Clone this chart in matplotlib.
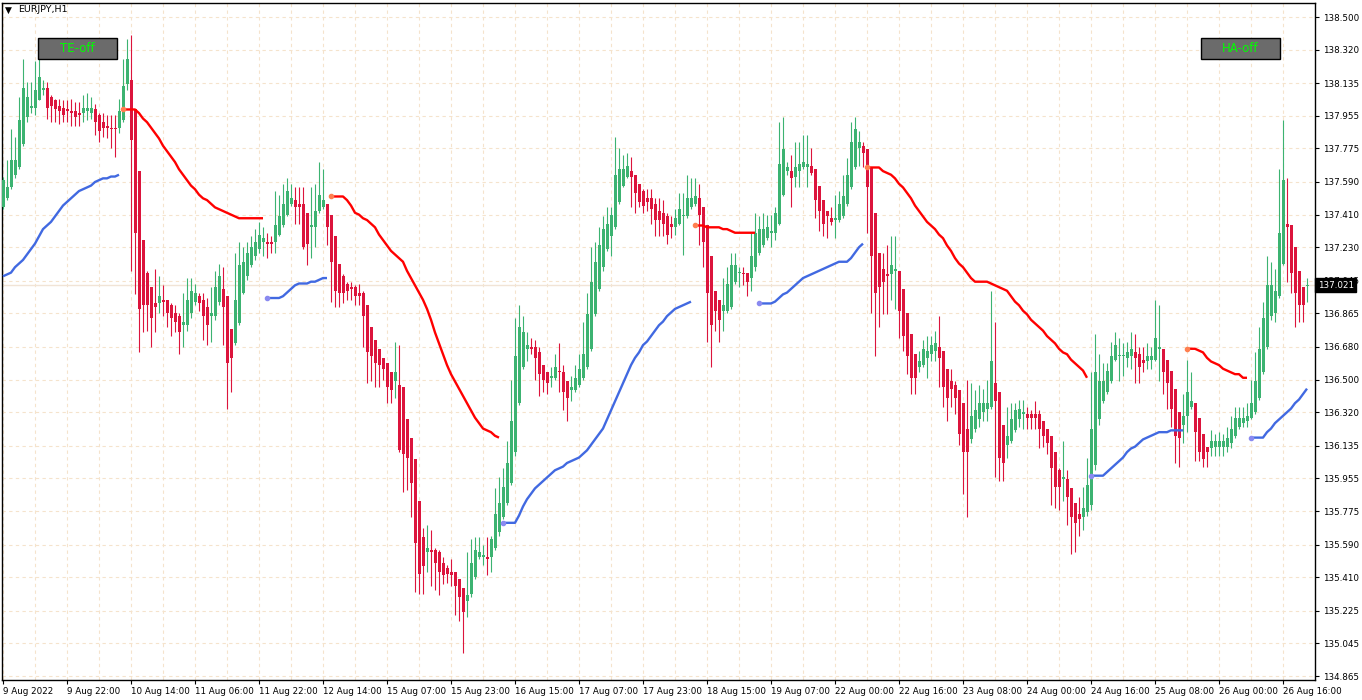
import numpy as np
import matplotlib
matplotlib.use("Agg")
import matplotlib.pyplot as plt
from matplotlib.patches import Rectangle
from matplotlib.transforms import blended_transform_factory

plt.rcParams['font.family'] = ['DejaVu Sans']

# EURJPY H1 candles, bar 0 = 9 Aug 2022 06:00
opens = [
    137.45, 137.50, 137.56, 137.63, 137.67, 137.80, 137.95, 138.00, 138.00, 138.04,
    138.10, 138.11, 138.06, 138.04, 138.01, 138.00, 137.99, 137.98, 137.98, 137.97,
    137.97, 137.98, 137.97, 137.99, 137.96, 137.92, 137.90, 137.89, 137.89, 137.89,
    137.93, 138.13, 138.15, 137.99, 137.65, 137.27, 137.09, 137.01, 136.92, 136.92,
    136.94, 136.94, 136.91, 136.87, 136.85, 136.80, 136.80, 136.87, 136.93, 136.96,
    136.94, 136.90, 136.85, 136.85, 136.93, 137.00, 136.96, 136.78, 136.70, 136.81,
    136.98, 137.07, 137.13, 137.18, 137.22, 137.26, 137.26, 137.26, 137.26, 137.30,
    137.35, 137.41, 137.47, 137.49, 137.47, 137.47, 137.42, 137.34, 137.34, 137.43,
    137.45, 137.47, 137.41, 137.29, 137.14, 137.07, 137.03, 137.01, 137.01, 136.98,
    136.98, 136.91, 136.79, 136.72, 136.67, 136.62, 136.59, 136.54, 136.49, 136.47,
    136.46, 136.28, 136.18, 136.06, 135.83, 135.63, 135.55, 135.56, 135.56, 135.55,
    135.49, 135.46, 135.44, 135.44, 135.40, 135.35, 135.28, 135.32, 135.41, 135.52,
    135.52, 135.52, 135.52, 135.57, 135.66, 135.74, 135.82, 135.93, 136.10, 136.37,
    136.57, 136.67, 136.68, 136.68, 136.65, 136.58, 136.54, 136.51, 136.51, 136.55,
    136.54, 136.49, 136.44, 136.44, 136.47, 136.51, 136.57, 136.67, 136.86, 137.00,
    137.12, 137.22, 137.29, 137.34, 137.48, 137.57, 137.62, 137.65, 137.63, 137.58,
    137.54, 137.50, 137.50, 137.47, 137.43, 137.42, 137.40, 137.36, 137.34, 137.36,
    137.40, 137.40, 137.45, 137.47, 137.50, 137.45, 137.35, 137.18, 136.99, 136.94,
    136.88, 136.88, 136.90, 137.04, 137.09, 137.09, 137.09, 137.06, 137.12, 137.20,
    137.24, 137.28, 137.31, 137.31, 137.36, 137.52, 137.65, 137.65, 137.62, 137.65,
    137.67, 137.67, 137.68, 137.66, 137.57, 137.49, 137.43, 137.39, 137.38, 137.38,
    137.40, 137.47, 137.56, 137.67, 137.78, 137.79, 137.77, 137.67, 137.42, 137.20,
    137.11, 137.08, 137.08, 137.10, 137.10, 137.00, 136.87, 136.75, 136.64, 136.57,
    136.58, 136.62, 136.64, 136.66, 136.68, 136.66, 136.56, 136.49, 136.47, 136.44,
    136.37, 136.23, 136.17, 136.23, 136.28, 136.32, 136.34, 136.35, 136.48, 136.43,
    136.25, 136.14, 136.16, 136.22, 136.28, 136.31, 136.31, 136.31, 136.31, 136.31,
    136.27, 136.23, 136.19, 136.10, 136.00, 135.95, 135.95, 135.90, 135.82, 135.76,
    135.74, 135.77, 135.81, 136.03, 136.28, 136.38, 136.43, 136.49, 136.61, 136.63,
    136.63, 136.62, 136.63, 136.65, 136.64, 136.61, 136.60, 136.61, 136.61, 136.67,
    136.67, 136.61, 136.55, 136.45, 136.32, 136.25, 136.30, 136.35, 136.37, 136.29,
    136.20, 136.13, 136.12, 136.13, 136.13, 136.13, 136.13, 136.15, 136.19, 136.24,
    136.26, 136.27, 136.29, 136.32, 136.40, 136.54, 136.68, 136.85, 136.87, 136.96,
    137.14, 137.36, 137.35, 137.23, 137.10, 137.01, 137.015,
]
highs = [
    137.62, 137.71, 137.88, 137.84, 138.06, 138.27, 138.14, 138.14, 138.26, 138.27,
    138.15, 138.14, 138.07, 138.05, 138.05, 138.04, 138.04, 138.05, 138.03, 138.03,
    138.07, 138.08, 138.06, 138.02, 137.97, 137.97, 137.96, 137.96, 137.96, 138.05,
    138.27, 138.38, 138.40, 137.99, 137.65, 137.27, 137.10, 137.01, 137.11, 137.07,
    137.02, 136.94, 136.92, 136.91, 136.87, 136.98, 137.06, 137.06, 137.03, 136.98,
    136.98, 136.95, 137.01, 137.10, 137.14, 137.12, 136.96, 136.78, 137.20, 137.26,
    137.23, 137.26, 137.29, 137.33, 137.37, 137.34, 137.31, 137.29, 137.54, 137.52,
    137.58, 137.61, 137.58, 137.56, 137.56, 137.56, 137.42, 137.56, 137.58, 137.70,
    137.66, 137.47, 137.41, 137.29, 137.14, 137.08, 137.04, 137.04, 137.02, 137.03,
    136.99, 136.91, 136.79, 136.72, 136.67, 136.62, 136.59, 136.54, 136.71, 136.69,
    136.46, 136.28, 136.18, 136.06, 135.83, 135.68, 135.70, 135.67, 135.57, 135.56,
    135.52, 135.48, 135.51, 135.44, 135.40, 135.35, 135.55, 135.62, 135.63, 135.63,
    135.59, 135.63, 135.64, 135.90, 135.96, 136.01, 136.16, 136.50, 136.84, 136.91,
    136.85, 136.76, 136.73, 136.72, 136.68, 136.58, 136.54, 136.57, 136.64, 136.70,
    136.58, 136.49, 136.52, 136.58, 136.64, 136.82, 136.98, 137.23, 137.26, 137.34,
    137.40, 137.45, 137.45, 137.84, 137.78, 137.74, 137.75, 137.73, 137.63, 137.58,
    137.55, 137.55, 137.55, 137.50, 137.50, 137.49, 137.42, 137.40, 137.44, 137.53,
    137.53, 137.63, 137.61, 137.61, 137.58, 137.45, 137.35, 137.18, 136.99, 136.94,
    137.06, 137.12, 137.20, 137.20, 137.12, 137.12, 137.09, 137.31, 137.42, 137.40,
    137.42, 137.41, 137.41, 137.45, 137.92, 137.95, 137.70, 137.74, 137.81, 137.81,
    137.85, 137.85, 137.78, 137.66, 137.57, 137.49, 137.43, 137.45, 137.52, 137.54,
    137.63, 137.72, 137.92, 137.95, 137.87, 137.81, 137.77, 137.67, 137.42, 137.20,
    137.20, 137.24, 137.29, 137.29, 137.10, 137.00, 136.87, 136.75, 136.64, 136.66,
    136.72, 136.74, 136.74, 136.77, 136.85, 136.66, 136.56, 136.56, 136.49, 136.44,
    136.37, 136.50, 136.48, 136.44, 136.47, 136.45, 136.50, 136.99, 136.82, 136.43,
    136.25, 136.35, 136.37, 136.37, 136.39, 136.39, 136.35, 136.33, 136.38, 136.33,
    136.27, 136.23, 136.19, 136.10, 136.01, 136.16, 136.00, 135.90, 135.82, 135.85,
    135.91, 136.07, 136.54, 136.75, 136.64, 136.59, 136.59, 136.71, 136.76, 136.73,
    136.70, 136.71, 136.76, 136.75, 136.68, 136.68, 136.70, 136.68, 136.94, 136.91,
    136.67, 136.61, 136.55, 136.45, 136.32, 136.42, 136.61, 136.54, 136.37, 136.29,
    136.20, 136.13, 136.22, 136.20, 136.21, 136.20, 136.24, 136.30, 136.35, 136.35,
    136.35, 136.37, 136.50, 136.65, 136.79, 136.93, 137.18, 137.15, 137.11, 137.66,
    137.93, 137.61, 137.35, 137.23, 137.10, 137.01, 137.06,
]
lows = [
    137.44, 137.49, 137.55, 137.61, 137.66, 137.79, 137.92, 137.97, 137.96, 138.04,
    138.07, 137.94, 137.92, 137.92, 137.91, 137.92, 137.92, 137.90, 137.90, 137.90,
    137.92, 137.93, 137.94, 137.85, 137.81, 137.84, 137.83, 137.78, 137.73, 137.86,
    137.92, 138.10, 137.10, 136.97, 136.65, 136.76, 136.77, 136.68, 136.76, 136.87,
    136.85, 136.79, 136.74, 136.76, 136.64, 136.68, 136.77, 136.84, 136.91, 136.88,
    136.72, 136.69, 136.71, 136.83, 136.91, 136.69, 136.34, 136.43, 136.69, 136.80,
    136.97, 137.05, 137.12, 137.16, 137.20, 137.18, 137.17, 137.20, 137.20, 137.29,
    137.34, 137.40, 137.46, 137.36, 137.36, 137.22, 137.13, 137.17, 137.23, 137.42,
    137.44, 137.24, 136.93, 136.90, 136.90, 136.92, 136.94, 136.94, 136.91, 136.91,
    136.68, 136.48, 136.49, 136.46, 136.46, 136.50, 136.37, 136.37, 136.40, 136.10,
    135.88, 135.89, 135.74, 135.33, 135.32, 135.32, 135.44, 135.36, 135.34, 135.31,
    135.37, 135.38, 135.36, 135.20, 135.17, 134.99, 135.19, 135.30, 135.40, 135.51,
    135.48, 135.42, 135.44, 135.56, 135.64, 135.73, 135.81, 135.92, 136.08, 136.36,
    136.56, 136.60, 136.64, 136.50, 136.41, 136.43, 136.42, 136.46, 136.50, 136.43,
    136.33, 136.27, 136.38, 136.43, 136.46, 136.50, 136.56, 136.66, 136.85, 136.99,
    137.10, 137.21, 137.18, 137.33, 137.47, 137.56, 137.61, 137.45, 137.42, 137.45,
    137.42, 137.43, 137.36, 137.29, 137.29, 137.29, 137.25, 137.28, 137.30, 137.35,
    137.19, 137.39, 137.44, 137.46, 137.24, 137.12, 136.71, 136.57, 136.77, 136.71,
    136.77, 136.87, 136.89, 137.03, 137.01, 137.02, 136.96, 136.99, 137.10, 137.19,
    137.23, 137.27, 137.23, 137.27, 137.35, 137.51, 137.63, 137.45, 137.56, 137.56,
    137.66, 137.56, 137.63, 137.39, 137.32, 137.29, 137.28, 137.35, 137.28, 137.37,
    137.39, 137.46, 137.55, 137.66, 137.68, 137.67, 137.31, 136.87, 136.63, 136.79,
    136.86, 136.86, 136.94, 136.89, 136.73, 136.66, 136.53, 136.42, 136.42, 136.54,
    136.57, 136.51, 136.60, 136.60, 136.46, 136.35, 136.27, 136.35, 136.31, 136.14,
    135.87, 135.74, 136.15, 136.21, 136.24, 136.27, 136.27, 136.34, 135.96, 135.94,
    135.94, 136.07, 136.15, 136.21, 136.24, 136.23, 136.23, 136.23, 136.23, 136.12,
    136.13, 136.09, 135.81, 135.79, 135.78, 135.83, 135.70, 135.54, 135.55, 135.64,
    135.67, 135.75, 135.78, 136.00, 136.25, 136.37, 136.42, 136.48, 136.60, 136.49,
    136.52, 136.57, 136.56, 136.48, 136.48, 136.54, 136.56, 136.56, 136.60, 136.49,
    136.42, 136.34, 136.24, 136.04, 136.02, 136.15, 136.21, 136.34, 136.05, 136.05,
    136.02, 136.02, 136.08, 136.08, 136.08, 136.08, 136.10, 136.12, 136.18, 136.23,
    136.24, 136.24, 136.28, 136.31, 136.39, 136.53, 136.67, 136.83, 136.82, 136.95,
    137.13, 137.04, 136.98, 136.79, 136.82, 136.82, 136.93,
]
closes = [
    137.60, 137.56, 137.71, 137.71, 137.93, 138.11, 138.06, 138.01, 138.10, 138.17,
    138.11, 138.00, 138.01, 137.99, 137.98, 137.96, 137.98, 137.97, 137.95, 137.96,
    138.00, 138.00, 138.00, 137.92, 137.87, 137.89, 137.89, 137.88, 137.88, 137.98,
    138.12, 138.27, 137.82, 137.31, 136.89, 136.91, 136.91, 136.84, 136.90, 136.96,
    136.93, 136.87, 136.84, 136.82, 136.76, 136.82, 136.94, 136.99, 136.98, 136.92,
    136.85, 136.80, 136.87, 137.01, 137.07, 136.90, 136.59, 136.62, 136.94, 137.13,
    137.15, 137.20, 137.23, 137.26, 137.30, 137.28, 137.25, 137.25, 137.35, 137.40,
    137.47, 137.54, 137.50, 137.45, 137.45, 137.23, 137.25, 137.35, 137.43, 137.52,
    137.49, 137.34, 137.15, 136.99, 136.98, 136.98, 136.99, 137.00, 136.96, 136.96,
    136.85, 136.65, 136.63, 136.59, 136.58, 136.56, 136.46, 136.44, 136.54, 136.11,
    136.09, 136.07, 135.93, 135.60, 135.43, 135.47, 135.57, 135.55, 135.49, 135.44,
    135.42, 135.43, 135.42, 135.36, 135.30, 135.22, 135.31, 135.49, 135.56, 135.55,
    135.53, 135.51, 135.62, 135.76, 135.82, 135.91, 136.04, 136.27, 136.63, 136.79,
    136.76, 136.69, 136.67, 136.62, 136.53, 136.50, 136.48, 136.52, 136.57, 136.54,
    136.43, 136.40, 136.46, 136.51, 136.56, 136.64, 136.86, 137.04, 137.15, 137.24,
    137.33, 137.36, 137.41, 137.63, 137.66, 137.66, 137.68, 137.62, 137.53, 137.48,
    137.46, 137.48, 137.44, 137.38, 137.38, 137.36, 137.30, 137.34, 137.39, 137.44,
    137.41, 137.50, 137.50, 137.51, 137.41, 137.26, 136.98, 136.80, 136.88, 136.83,
    136.91, 137.03, 137.13, 137.13, 137.095, 137.08, 137.04, 137.18, 137.31, 137.33,
    137.33, 137.34, 137.32, 137.42, 137.69, 137.77, 137.67, 137.61, 137.67, 137.69,
    137.70, 137.69, 137.64, 137.49, 137.43, 137.36, 137.40, 137.37, 137.39, 137.47,
    137.51, 137.63, 137.81, 137.88, 137.81, 137.75, 137.56, 137.18, 136.98, 137.01,
    137.04, 137.07, 137.13, 137.11, 136.88, 136.74, 136.63, 136.51, 136.51, 136.60,
    136.67, 136.66, 136.69, 136.70, 136.62, 136.46, 136.40, 136.45, 136.40, 136.20,
    136.10, 136.10, 136.30, 136.33, 136.37, 136.37, 136.37, 136.60, 136.38, 136.07,
    136.04, 136.19, 136.28, 136.33, 136.34, 136.32, 136.29, 136.29, 136.29, 136.23,
    136.19, 136.15, 136.01, 135.91, 135.91, 135.96, 135.85, 135.74, 135.71, 135.73,
    135.79, 135.92, 136.23, 136.54, 136.49, 136.49, 136.55, 136.63, 136.69, 136.635,
    136.635, 136.65, 136.67, 136.62, 136.57, 136.59, 136.63, 136.63, 136.73, 136.68,
    136.54, 136.48, 136.34, 136.19, 136.18, 136.30, 136.43, 136.38, 136.21, 136.10,
    136.06, 136.10, 136.16, 136.16, 136.16, 136.16, 136.18, 136.23, 136.29, 136.29,
    136.29, 136.30, 136.37, 136.49, 136.67, 136.84, 137.02, 137.02, 136.99, 137.31,
    137.60, 137.34, 137.09, 136.98, 136.91, 136.91, 137.021,
]

# trailing lines: (first bar, values)
red_trails = [
    (30, [137.99, 137.99, 137.99, 137.99, 137.97, 137.94, 137.92, 137.89, 137.86, 137.83,
          137.79, 137.76, 137.73, 137.70, 137.66, 137.63, 137.60, 137.57, 137.55, 137.52,
          137.50, 137.49, 137.47, 137.45, 137.44, 137.43, 137.42, 137.41, 137.40, 137.39,
          137.39, 137.39, 137.39, 137.39, 137.39, 137.39]),
    (82, [137.51, 137.51, 137.51, 137.51, 137.49, 137.46, 137.42, 137.41, 137.39, 137.38,
          137.36, 137.34, 137.30, 137.27, 137.24, 137.21, 137.19, 137.17, 137.15, 137.10,
          137.06, 137.02, 136.98, 136.94, 136.89, 136.83, 136.76, 136.70, 136.64, 136.58,
          136.53, 136.49, 136.45, 136.41, 136.37, 136.33, 136.29, 136.26, 136.23, 136.22,
          136.21, 136.19, 136.18]),
    (173, [137.35, 137.35, 137.35, 137.34, 137.34, 137.34, 137.34, 137.33, 137.33, 137.32,
           137.31, 137.31, 137.31, 137.31, 137.31, 137.31]),
    (216, [137.67, 137.67, 137.67, 137.67, 137.65, 137.64, 137.63, 137.61, 137.58, 137.56,
           137.53, 137.50, 137.46, 137.43, 137.40, 137.37, 137.35, 137.33, 137.30, 137.28,
           137.24, 137.21, 137.17, 137.14, 137.12, 137.09, 137.06, 137.04, 137.04, 137.04,
           137.04, 137.03, 137.02, 137.01, 137.00, 136.99, 136.96, 136.93, 136.91, 136.88,
           136.86, 136.83, 136.81, 136.79, 136.77, 136.74, 136.72, 136.70, 136.67, 136.65,
           136.64, 136.61, 136.59, 136.57, 136.55, 136.51]),
    (296, [136.67, 136.67, 136.67, 136.66, 136.65, 136.62, 136.60, 136.59, 136.58, 136.56,
           136.55, 136.54, 136.53, 136.53, 136.51, 136.51]),
]
blue_trails = [
    (0, [137.07, 137.08, 137.09, 137.12, 137.14, 137.16, 137.19, 137.22, 137.25, 137.29,
         137.33, 137.35, 137.37, 137.40, 137.43, 137.46, 137.48, 137.50, 137.52, 137.54,
         137.55, 137.56, 137.57, 137.59, 137.60, 137.61, 137.61, 137.62, 137.62, 137.63]),
    (66, [136.95, 136.95, 136.95, 136.95, 136.96, 136.98, 137.00, 137.02, 137.03, 137.03,
          137.03, 137.04, 137.04, 137.05, 137.06, 137.06]),
    (125, [135.71, 135.71, 135.71, 135.71, 135.75, 135.80, 135.84, 135.87, 135.90, 135.92,
           135.94, 135.96, 135.98, 136.00, 136.01, 136.02, 136.04, 136.05, 136.06, 136.07,
           136.09, 136.11, 136.14, 136.17, 136.20, 136.23, 136.28, 136.33, 136.38, 136.43,
           136.48, 136.53, 136.58, 136.62, 136.65, 136.69, 136.71, 136.74, 136.77, 136.80,
           136.82, 136.85, 136.87, 136.89, 136.90, 136.91, 136.92, 136.93]),
    (189, [136.92, 136.92, 136.92, 136.92, 136.93, 136.95, 136.97, 136.98, 137.00, 137.02,
           137.04, 137.06, 137.07, 137.08, 137.09, 137.10, 137.11, 137.12, 137.13, 137.14,
           137.15, 137.15, 137.15, 137.17, 137.20, 137.23, 137.25]),
    (272, [135.97, 135.97, 135.97, 135.97, 135.99, 136.01, 136.03, 136.05, 136.07, 136.10,
           136.12, 136.13, 136.15, 136.17, 136.18, 136.19, 136.20, 136.21, 136.21, 136.21,
           136.22, 136.22, 136.22, 136.22]),
    (312, [136.18, 136.18, 136.18, 136.18, 136.21, 136.23, 136.26, 136.28, 136.30, 136.32,
           136.34, 136.37, 136.39, 136.42, 136.45]),
]

x_labels = ["9 Aug 2022", "9 Aug 22:00", "10 Aug 14:00", "11 Aug 06:00", "11 Aug 22:00",
            "12 Aug 14:00", "15 Aug 07:00", "15 Aug 23:00", "16 Aug 15:00", "17 Aug 07:00",
            "17 Aug 23:00", "18 Aug 15:00", "19 Aug 07:00", "22 Aug 00:00", "22 Aug 16:00",
            "23 Aug 08:00", "24 Aug 00:00", "24 Aug 16:00", "25 Aug 08:00", "26 Aug 00:00",
            "26 Aug 16:00"]
y_ticks = [138.500, 138.320, 138.135, 137.955, 137.775, 137.590, 137.410, 137.230,
           137.045, 136.865, 136.680, 136.500, 136.320, 136.135, 135.955, 135.775,
           135.590, 135.410, 135.225, 135.045, 134.865]
last_price = 137.021

UP = '#3CB371'
DOWN = '#DC143C'
GRID = '#F5E3CC'

fig = plt.figure(figsize=(13.62, 7.0), dpi=100)
ax = fig.add_axes([2 / 1362, 20 / 700, 1313 / 1362, 677.5 / 700])
ax.set_xlim(-0.25, 328)
ax.set_ylim(134.843, 138.580)

o = np.array(opens)
h = np.array(highs)
l = np.array(lows)
c = np.array(closes)
idx = np.arange(len(c))
cols = np.where(c >= o, UP, DOWN)

ax.axhline(last_price, color='#F1E4D6', lw=1.0, zorder=1)

ax.vlines(idx, l, h, colors=cols, linewidth=0.8, zorder=3)
body_lo = np.minimum(o, c)
body_h = np.maximum(np.abs(c - o), 0.006)
ax.bar(idx, body_h, bottom=body_lo, width=0.75, color=cols, linewidth=0, zorder=4)

for start, vals in red_trails:
    xs = np.arange(start, start + len(vals))
    ax.plot(xs, vals, color='#FF0000', lw=1.7, zorder=5, solid_capstyle='butt')
    ax.plot(xs[0], vals[0], 'o', ms=3, color='#FF7F50', zorder=6)
for start, vals in blue_trails:
    xs = np.arange(start, start + len(vals))
    ax.plot(xs, vals, color='#4169E1', lw=1.7, zorder=5, solid_capstyle='butt')
    if start > 0:
        ax.plot(xs[0], vals[0], 'o', ms=3, color='#8A8AF0', zorder=6)

# axes, ticks, grid
ax.yaxis.tick_right()
ax.set_yticks(y_ticks)
ax.set_yticklabels([f"{v:.3f}" for v in y_ticks])
ax.set_xticks(np.arange(0, 321, 16))
ax.set_xticklabels(x_labels)
ax.set_xticks(np.arange(0, 328, 8), minor=True)
for lbl in ax.get_xticklabels():
    lbl.set_horizontalalignment('left')
ax.tick_params(axis='both', labelsize=6.3, colors='black', length=3, width=0.8)
ax.tick_params(axis='x', which='minor', length=0)
ax.tick_params(axis='x', pad=2)
ax.tick_params(axis='y', pad=3)
ax.grid(True, which='both', axis='x', color=GRID, lw=0.8, ls=(0, (3, 3)))
ax.grid(True, which='major', axis='y', color=GRID, lw=0.8, ls=(0, (3, 3)))
ax.set_axisbelow(True)
for sp in ax.spines.values():
    sp.set_color('black')
    sp.set_linewidth(1.0)

# price tag (covers the 137.045 label, as in the terminal)
tr = blended_transform_factory(ax.transAxes, ax.transData)
ax.text(1.002, last_price, f"{last_price:.3f}", transform=tr, ha='left', va='center',
        fontsize=6.3, color='white', zorder=10, clip_on=False,
        bbox=dict(boxstyle='square,pad=0.25', fc='black', ec='black'))

# header and buttons
fig.text(5 / 1362, 1 - 10 / 700, "\u25BC", fontsize=6.5, va='center', ha='left')
fig.text(18 / 1362, 1 - 10 / 700, "EURJPY,H1", fontsize=6.8, va='center', ha='left')
for bx, label in [(38, "TE-off"), (1201, "HA-off")]:
    fig.add_artist(Rectangle((bx / 1362, 1 - 59 / 700), 79 / 1362, 21 / 700,
                             transform=fig.transFigure, fc='#6B6B6B', ec='black', lw=1))
    fig.text((bx + 39.5) / 1362, 1 - 48.5 / 700, label, fontsize=8.5, color='#00FF00',
             ha='center', va='center')

fig.savefig("out.png", dpi=100, facecolor='white')
